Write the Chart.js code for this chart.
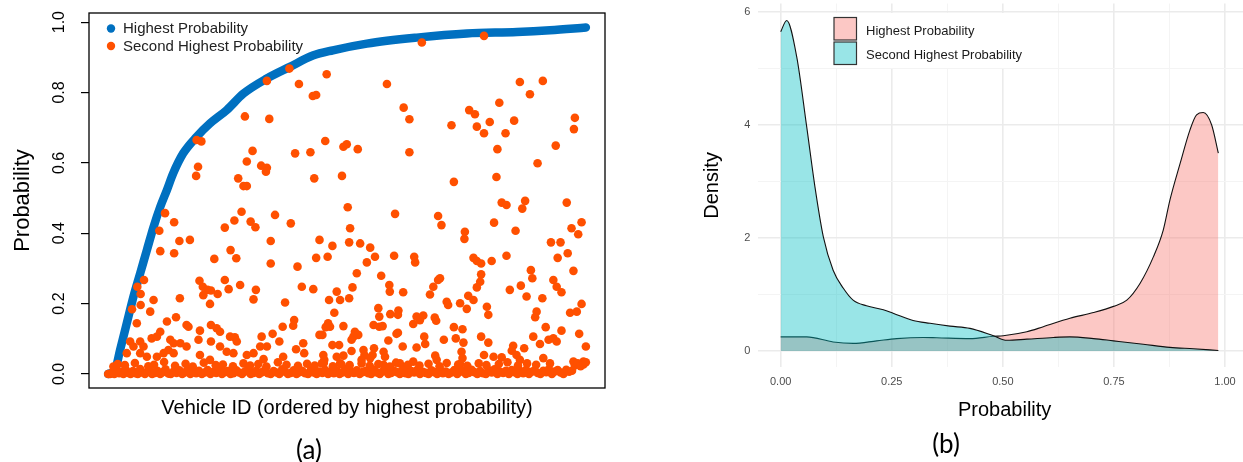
<!DOCTYPE html>
<html>
<head>
<meta charset="utf-8">
<script src="https://cdn.jsdelivr.net/npm/chart.js@4/dist/chart.umd.min.js"></script>
<style>
  html, body { margin: 0; padding: 0; background: #fff; }
  #wrap { position: relative; width: 1243px; height: 462px; overflow: hidden; }
  #left { position: absolute; left: 0; top: 0; }
  #right { position: absolute; left: 640px; top: 0; }
</style>
</head>
<body>
<div id="wrap">
  <canvas id="left" width="640" height="462"></canvas>
  <canvas id="right" width="611" height="462"></canvas>
</div>
<script>
// ---------- panel (a): probabilities per vehicle ----------
// highest probability, read along the blue band (vehicle rank, value)
const highestId = [1, 15, 26, 40, 54, 68, 82, 96, 110, 124, 137, 158, 186, 214, 249, 284, 333, 381, 429, 471, 542, 646, 751, 856, 925, 1000];
const highestProb = [0.0, 0.01, 0.068, 0.144, 0.22, 0.286, 0.352, 0.418, 0.475, 0.523, 0.57, 0.627, 0.674, 0.712, 0.75, 0.797, 0.84, 0.873, 0.905, 0.92, 0.939, 0.956, 0.968, 0.972, 0.977, 0.985];

// second highest probability, scattered points
const secondId = [
  380, 333, 400, 429, 436, 287, 338, 186, 196, 303, 392, 424, 291, 189, 321, 333, 331, 185, 273, 284, 291, 432,
  657, 787, 458, 584, 862, 910, 883, 819, 619, 756, 768, 631, 719, 772, 799, 787, 850, 832, 977, 975, 455, 493, 500, 523, 631, 815, 937, 899, 490, 724, 813,
  120, 139, 108, 150, 172, 110, 139, 76, 62, 69, 151, 96, 69, 51, 89, 61, 124, 143, 165, 169, 245, 265, 280, 299, 309, 350, 383, 341, 443, 223, 257, 269, 341, 397, 436,
  192, 199, 209, 216, 200, 230, 214, 245, 253, 277, 310, 305, 371, 406, 430, 390, 388, 366, 345, 322, 216, 228, 235, 193, 256, 266, 270, 216, 190, 443, 409, 411, 394,
  359, 333, 319, 305, 47, 54, 68, 75, 92, 103, 110, 131, 138, 152, 127, 138, 165, 193, 214, 235, 249, 291, 367, 263, 326, 82, 103, 117, 40, 68,
  502, 601, 691, 698, 824, 834, 873, 867, 960, 991, 808, 853, 970, 984, 747, 746, 507, 470, 505, 528, 549, 927, 947, 962, 941, 834, 803, 460, 542, 559, 599, 641, 643,
  765, 772, 781, 521, 572, 781, 974, 885, 888, 695, 691, 779, 772, 512, 589, 590, 618, 681, 674, 864, 841, 932, 939, 949, 479, 463, 486, 505, 876, 909, 754, 765, 709,
  712, 737, 751, 793, 796, 991, 474, 566, 568, 591, 608, 607, 646, 653, 639, 660, 684, 687, 897, 894, 967, 981, 461, 465, 456, 493, 556, 568, 575, 449, 517, 524, 514,
  510, 607, 604, 587, 662, 664, 703, 724, 742, 728, 744, 781, 796, 890, 916, 949, 986, 904, 922, 932, 939, 470, 484, 617, 646, 510, 535, 537, 531, 557, 554, 549, 577,
  580, 577, 451, 453, 448, 479, 493, 486, 740, 742, 737, 685, 688, 787, 807, 824, 848, 845, 855, 862, 871, 911, 925, 1000, 995, 974, 611, 625, 639
];
const secondProb = [
  0.868, 0.833, 0.824, 0.79, 0.793, 0.732, 0.725, 0.665, 0.661, 0.634, 0.627, 0.63, 0.604, 0.589, 0.592, 0.586, 0.575, 0.563, 0.556, 0.534, 0.534, 0.556,
  0.942, 0.961, 0.852, 0.824, 0.83, 0.833, 0.795, 0.771, 0.757, 0.75, 0.738, 0.724, 0.707, 0.703, 0.716, 0.684, 0.72, 0.684, 0.728, 0.696, 0.662, 0.646, 0.653, 0.639, 0.63, 0.639, 0.649, 0.599, 0.563, 0.546, 0.56,
  0.457, 0.431, 0.407, 0.378, 0.381, 0.349, 0.343, 0.267, 0.248, 0.227, 0.215, 0.21, 0.196, 0.184, 0.177, 0.144, 0.149, 0.161, 0.139, 0.134, 0.416, 0.436, 0.461, 0.433, 0.417, 0.452, 0.428, 0.378, 0.381, 0.327, 0.352, 0.329, 0.314, 0.305, 0.33,
  0.265, 0.248, 0.239, 0.237, 0.224, 0.227, 0.199, 0.267, 0.241, 0.253, 0.239, 0.212, 0.203, 0.248, 0.241, 0.153, 0.137, 0.134, 0.114, 0.106, 0.139, 0.13, 0.12, 0.123, 0.106, 0.104, 0.092, 0.092, 0.097, 0.111, 0.087, 0.059, 0.07,
  0.092, 0.078, 0.078, 0.059, 0.092, 0.078, 0.092, 0.078, 0.101, 0.106, 0.12, 0.097, 0.087, 0.087, 0.068, 0.059, 0.078, 0.054, 0.04, 0.078, 0.063, 0.054, 0.049, 0.059, 0.042, 0.049, 0.049, 0.059, 0.059, 0.059,
  0.474, 0.455, 0.449, 0.423, 0.487, 0.48, 0.492, 0.47, 0.487, 0.431, 0.43, 0.407, 0.414, 0.397, 0.404, 0.384, 0.414, 0.364, 0.374, 0.371, 0.359, 0.374, 0.374, 0.343, 0.33, 0.336, 0.321, 0.333, 0.317, 0.333, 0.336, 0.333, 0.317,
  0.33, 0.321, 0.314, 0.286, 0.279, 0.283, 0.293, 0.295, 0.272, 0.272, 0.267, 0.262, 0.246, 0.246, 0.253, 0.234, 0.232, 0.248, 0.226, 0.251, 0.239, 0.267, 0.248, 0.232, 0.234, 0.21, 0.21, 0.215, 0.22, 0.215, 0.222, 0.21, 0.205,
  0.196, 0.201, 0.185, 0.191, 0.168, 0.199, 0.174, 0.187, 0.163, 0.17, 0.18, 0.168, 0.163, 0.153, 0.142, 0.166, 0.16, 0.151, 0.177, 0.161, 0.174, 0.177, 0.144, 0.134, 0.133, 0.136, 0.139, 0.134, 0.136, 0.111, 0.12, 0.111, 0.106,
  0.097, 0.117, 0.114, 0.095, 0.106, 0.085, 0.097, 0.133, 0.127, 0.101, 0.089, 0.106, 0.089, 0.106, 0.133, 0.123, 0.114, 0.085, 0.097, 0.101, 0.092, 0.082, 0.082, 0.078, 0.075, 0.065, 0.068, 0.054, 0.04, 0.073, 0.054, 0.045, 0.063,
  0.049, 0.026, 0.054, 0.04, 0.03, 0.049, 0.052, 0.03, 0.063, 0.045, 0.028, 0.052, 0.04, 0.054, 0.049, 0.047, 0.08, 0.066, 0.054, 0.04, 0.073, 0.045, 0.03, 0.078, 0.035, 0.035, 0.03, 0.021, 0.035
];

// second highest probability, the dense band near zero
const secondBaseId = [
  1, 5, 10, 14, 19, 24, 29, 33, 38, 43, 48, 53, 58, 63, 68, 73, 78, 83, 88, 93, 99, 104, 110, 115, 121, 127, 132, 138, 144, 150,
  156, 161, 167, 173, 179, 185, 191, 197, 203, 209, 215, 221, 227, 233, 239, 245, 251, 257, 263, 269, 275, 281, 287, 293, 299, 305,
  311, 317, 323, 329, 335, 341, 347, 353, 359, 365, 371, 377, 383, 389, 395, 401, 407, 413, 419, 425, 431, 437, 443, 449, 455, 461,
  467, 473, 479, 485, 491, 497, 503, 509, 515, 521, 527, 533, 539, 545, 551, 557, 563, 569, 575, 581, 587, 593, 599, 605, 611, 617,
  623, 629, 635, 641, 647, 653, 659, 665, 671, 677, 683, 689, 695, 701, 707, 713, 719, 725, 731, 737, 743, 749, 755, 761, 767, 773,
  779, 785, 791, 797, 803, 809, 815, 821, 827, 833, 839, 845, 851, 857, 863, 869, 875, 881, 887, 893, 899, 905, 911, 917, 923, 929,
  935, 941, 947, 953, 959, 965, 971, 977, 983, 989, 995, 1000,
  12, 21, 36, 57, 85, 97, 118, 141, 163, 178, 201, 226, 241, 262, 284, 298, 315, 332, 356, 374, 398, 417, 433, 452, 471, 489,
  506, 531, 548, 566, 590, 603, 628, 652, 671, 694, 709, 733, 752, 776, 792, 818, 836, 858, 877, 896, 913, 931, 951, 968, 988
];
const secondBaseProb = [
  0.0, 0.0, 0.004, 0.0, 0.01, 0.002, 0.006, 0.0, 0.012, 0.003, 0.0, 0.008, 0.002, 0.0, 0.014, 0.004, 0.0, 0.006, 0.011, 0.0,
  0.003, 0.009, 0.0, 0.005, 0.013, 0.001, 0.0, 0.007, 0.003, 0.01, 0.0, 0.004, 0.012, 0.0, 0.006, 0.002, 0.009, 0.0, 0.004, 0.011,
  0.0, 0.006, 0.003, 0.013, 0.0, 0.005, 0.008, 0.0, 0.002, 0.01, 0.004, 0.0, 0.007, 0.012, 0.0, 0.003, 0.009, 0.0, 0.005, 0.011,
  0.002, 0.0, 0.008, 0.004, 0.0, 0.013, 0.006, 0.0, 0.003, 0.01, 0.0, 0.005, 0.009, 0.002, 0.0, 0.012, 0.004, 0.0, 0.007, 0.003,
  0.011, 0.0, 0.006, 0.002, 0.009, 0.0, 0.004, 0.013, 0.0, 0.006, 0.003, 0.01, 0.0, 0.005, 0.008, 0.002, 0.0, 0.012, 0.004, 0.0,
  0.007, 0.01, 0.0, 0.003, 0.009, 0.005, 0.0, 0.012, 0.002, 0.0, 0.008, 0.004, 0.011, 0.0, 0.006, 0.003, 0.0, 0.01, 0.005, 0.0,
  0.013, 0.002, 0.007, 0.0, 0.004, 0.011, 0.0, 0.006, 0.009, 0.0, 0.003, 0.012, 0.005, 0.0, 0.008, 0.002, 0.0, 0.01, 0.004, 0.013,
  0.0, 0.006, 0.003, 0.009, 0.0, 0.011, 0.005, 0.0, 0.008, 0.002, 0.012, 0.0, 0.006, 0.01, 0.003, 0.0, 0.009, 0.005, 0.013, 0.0,
  0.007, 0.011, 0.004, 0.0, 0.012, 0.006, 0.009,
  0.024, 0.03, 0.022, 0.027, 0.033, 0.021, 0.028, 0.025, 0.031, 0.022, 0.026, 0.034, 0.023, 0.029, 0.021, 0.032, 0.025, 0.027, 0.022, 0.03, 0.024, 0.028, 0.021, 0.033, 0.026, 0.023,
  0.029, 0.024, 0.031, 0.022, 0.027, 0.025, 0.03, 0.023, 0.028, 0.021, 0.032, 0.026, 0.024, 0.029, 0.022, 0.031, 0.027, 0.023, 0.03, 0.025, 0.028, 0.033, 0.024, 0.03, 0.026
];

const probTicks = [0, 0.2, 0.4, 0.6, 0.8, 1.0];

// ---------- panel (b): density of the two probabilities ----------
const highestDensX = [0, 0.0585, 0.118, 0.163, 0.216, 0.261, 0.321, 0.351, 0.426, 0.479, 0.501, 0.554, 0.591, 0.651, 0.704, 0.749, 0.779, 0.809, 0.839, 0.861, 0.876, 0.899, 0.921, 0.936, 0.951, 0.97, 0.985];
const highestDensY = [0.25, 0.25, 0.16, 0.135, 0.18, 0.22, 0.24, 0.235, 0.22, 0.26, 0.27, 0.34, 0.43, 0.58, 0.68, 0.79, 0.9, 1.2, 1.67, 2.14, 2.67, 3.32, 3.91, 4.18, 4.22, 4.0, 3.5];
const secondDensX = [0, 0.0135, 0.036, 0.0585, 0.077, 0.096, 0.118, 0.141, 0.163, 0.193, 0.231, 0.253, 0.298, 0.336, 0.381, 0.426, 0.479, 0.509, 0.554, 0.614, 0.651, 0.704, 0.749, 0.816, 0.876, 0.929, 0.985];
const secondDensY = [5.65, 5.85, 5.21, 3.97, 2.91, 2.02, 1.43, 1.11, 0.9, 0.8, 0.73, 0.67, 0.54, 0.49, 0.44, 0.4, 0.27, 0.19, 0.21, 0.24, 0.25, 0.22, 0.18, 0.12, 0.065, 0.04, 0.01];

const densXTicks = [0, 0.125, 0.25, 0.375, 0.5, 0.625, 0.75, 0.875, 1.0];
const densYTicks = [0, 1, 2, 3, 4, 5, 6];

const BLUE = "#0070C0";
const ORANGE = "#FF5000";
const PINK_FILL = "rgba(248,118,109,0.4)";
const CYAN_FILL = "rgba(0,191,196,0.4)";
const SANS = "'Liberation Sans', Arial, sans-serif";

function zip(xs, ys) {
  return xs.map((x, i) => ({ x: x, y: ys[i] }));
}

// no extra room for end labels, the plot box is placed by hand
function fixHeight(h) {
  return s => { s.height = h; s.paddingLeft = 0; s.paddingRight = 0; };
}
function fixWidth(w) {
  return s => { s.width = w; s.paddingTop = 0; s.paddingBottom = 0; };
}

// box around the plot region and the R style legend
const boxPlugin = {
  id: "box",
  afterDraw(chart) {
    const { ctx, chartArea: a } = chart;
    ctx.save();
    ctx.strokeStyle = "#000";
    ctx.lineWidth = 1.3;
    ctx.strokeRect(a.left, a.top, a.right - a.left, a.bottom - a.top);

    // legend
    ctx.font = "15px " + SANS;
    ctx.textBaseline = "middle";
    ctx.fillStyle = BLUE;
    ctx.beginPath(); ctx.arc(111, 28.5, 4.2, 0, Math.PI * 2); ctx.fill();
    ctx.fillStyle = ORANGE;
    ctx.beginPath(); ctx.arc(111, 46, 4.2, 0, Math.PI * 2); ctx.fill();
    ctx.fillStyle = "#222";
    ctx.fillText("Highest Probability", 123, 29);
    ctx.fillText("Second Highest Probability", 123, 47);

    ctx.font = "26px Lato, 'Open Sans', sans-serif";
    ctx.textAlign = "center";
    ctx.fillStyle = "#000";
    ctx.fillText("(a)", 309, 451);
    ctx.restore();
  }
};

new Chart(document.getElementById("left"), {
  type: "scatter",
  data: {
    datasets: [
      {
        label: "Second Highest Probability",
        data: zip(secondId, secondProb).concat(zip(secondBaseId, secondBaseProb)),
        backgroundColor: ORANGE,
        borderWidth: 0,
        pointRadius: 4.3
      },
      {
        label: "Highest Probability",
        data: zip(highestId, highestProb),
        showLine: true,
        borderColor: BLUE,
        borderWidth: 8.5,
        borderCapStyle: "round",
        borderJoinStyle: "round",
        cubicInterpolationMode: "monotone",
        backgroundColor: BLUE,
        pointRadius: 0
      }
    ]
  },
  options: {
    responsive: false,
    animation: false,
    layout: { padding: { top: 13, right: 35, left: 0, bottom: 0 } },
    plugins: { legend: { display: false }, tooltip: { enabled: false } },
    scales: {
      x: {
        type: "linear",
        min: -39,
        max: 1040,
        afterFit: fixHeight(74),
        ticks: { display: false },
        grid: { display: false },
        border: { display: false },
        title: {
          display: true,
          text: "Vehicle ID (ordered by highest probability)",
          color: "#000",
          font: { family: SANS, size: 20 },
          padding: { top: 0, bottom: 42 }
        }
      },
      y: {
        type: "linear",
        min: -0.04,
        max: 1.026,
        afterFit: fixWidth(89),
        afterBuildTicks: s => { s.ticks = probTicks.map(v => ({ value: v })); },
        ticks: {
          minRotation: 90,
          maxRotation: 90,
          crossAlign: "center",
          padding: 10,
          color: "#000",
          font: { family: SANS, size: 16 },
          callback: v => Number(v).toFixed(1)
        },
        grid: { drawOnChartArea: false, tickLength: 8, color: "#000", lineWidth: 1.2 },
        border: { display: false },
        title: {
          display: true,
          text: "Probability",
          color: "#000",
          font: { family: SANS, size: 22 },
          padding: { top: 10, bottom: 0 }
        }
      }
    }
  },
  plugins: [boxPlugin]
});

// ggplot style legend and panel label
const densLegendPlugin = {
  id: "densLegend",
  afterDraw(chart) {
    const ctx = chart.ctx;
    ctx.save();
    ctx.fillStyle = "#fff";
    ctx.fillRect(185, 13, 203, 55);
    ctx.lineWidth = 1.2;
    ctx.strokeStyle = "#333";
    ctx.fillStyle = "#FCC8C5";
    ctx.fillRect(194, 17.5, 22.5, 22.5);
    ctx.strokeRect(194, 17.5, 22.5, 22.5);
    ctx.fillStyle = "#99E5E7";
    ctx.fillRect(194, 42, 22.5, 22.5);
    ctx.strokeRect(194, 42, 22.5, 22.5);
    ctx.fillStyle = "#1a1a1a";
    ctx.font = "13px " + SANS;
    ctx.textBaseline = "middle";
    ctx.fillText("Highest Probability", 226, 31.5);
    ctx.fillText("Second Highest Probability", 226, 55.5);

    ctx.font = "26px Lato, 'Open Sans', sans-serif";
    ctx.textAlign = "center";
    ctx.fillStyle = "#000";
    ctx.fillText("(b)", 306, 445);
    ctx.restore();
  }
};

const isMajorX = v => Math.abs(v * 4 - Math.round(v * 4)) < 1e-9;
const isMajorY = v => Math.abs(v / 2 - Math.round(v / 2)) < 1e-9;

new Chart(document.getElementById("right"), {
  type: "line",
  data: {
    datasets: [
      {
        label: "Second Highest Probability",
        data: zip(secondDensX, secondDensY),
        borderColor: "#111",
        borderWidth: 1.1,
        backgroundColor: CYAN_FILL,
        fill: "origin",
        pointRadius: 0,
        cubicInterpolationMode: "monotone"
      },
      {
        label: "Highest Probability",
        data: zip(highestDensX, highestDensY),
        borderColor: "#111",
        borderWidth: 1.1,
        backgroundColor: PINK_FILL,
        fill: "origin",
        pointRadius: 0,
        cubicInterpolationMode: "monotone"
      }
    ]
  },
  options: {
    responsive: false,
    animation: false,
    layout: { padding: { top: 3.5, right: 0, left: 0, bottom: 0 } },
    plugins: { legend: { display: false }, tooltip: { enabled: false } },
    scales: {
      x: {
        type: "linear",
        min: -0.0504,
        max: 1.0585,
        afterFit: fixHeight(94.6),
        afterBuildTicks: s => { s.ticks = densXTicks.map(v => ({ value: v })); },
        ticks: {
          autoSkip: false,
          maxRotation: 0,
          padding: 8,
          color: "#4D4D4D",
          font: { family: SANS, size: 11 },
          callback: v => (isMajorX(v) ? Number(v).toFixed(2) : "")
        },
        grid: {
          drawTicks: false,
          color: c => (isMajorX(c.tick.value) ? "#EBEBEB" : "#F4F4F4"),
          lineWidth: c => (isMajorX(c.tick.value) ? 1.6 : 1)
        },
        border: { display: false },
        title: {
          display: true,
          text: "Probability",
          color: "#000",
          font: { family: SANS, size: 20 },
          padding: { top: 0, bottom: 40 }
        }
      },
      y: {
        type: "linear",
        min: -0.29,
        max: 6.15,
        afterFit: fixWidth(118.3),
        afterBuildTicks: s => { s.ticks = densYTicks.map(v => ({ value: v })); },
        ticks: {
          autoSkip: false,
          padding: 8,
          color: "#4D4D4D",
          font: { family: SANS, size: 11 },
          callback: v => (isMajorY(v) ? String(v) : "")
        },
        grid: {
          drawTicks: false,
          color: c => (isMajorY(c.tick.value) ? "#EBEBEB" : "#F4F4F4"),
          lineWidth: c => (isMajorY(c.tick.value) ? 1.6 : 1)
        },
        border: { display: false },
        title: {
          display: true,
          text: "Density",
          color: "#000",
          font: { family: SANS, size: 20 },
          padding: { top: 60, bottom: 0 }
        }
      }
    }
  },
  plugins: [densLegendPlugin]
});
</script>
</body>
</html>
